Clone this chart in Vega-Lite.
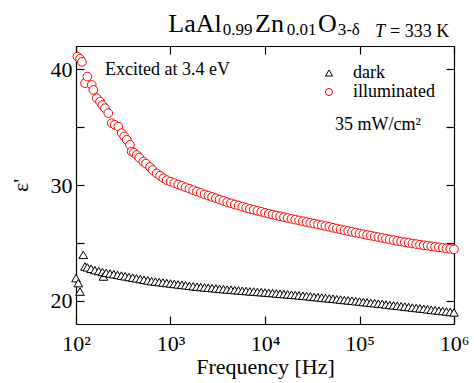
{
  "$schema": "https://vega.github.io/schema/vega-lite/v6.json",
  "width": 378,
  "height": 278,
  "autosize": {"type": "none"},
  "padding": {"left": 76, "top": 46, "right": 20, "bottom": 59},
  "background": "white",
  "config": {
    "view": {"stroke": null},
    "font": "Liberation Serif",
    "axis": {
      "domainColor": "black", "domainWidth": 1.2,
      "tickColor": "black", "tickWidth": 1.2, "tickSize": -8,
      "labelFont": "Liberation Serif", "labelFontSize": 22, "labelColor": "black",
      "titleFont": "Liberation Serif", "titleFontSize": 22, "titleFontWeight": "normal", "titleColor": "black",
      "grid": false
    },
    "legend": {
      "orient": "none", "legendX": 244, "legendY": 18, "title": null,
      "labelFont": "Liberation Serif", "labelFontSize": 18, "labelColor": "black",
      "symbolSize": 50, "symbolStrokeWidth": 1, "labelOffset": 15, "rowPadding": 1, "padding": 0,
      "symbolFillColor": "white"
    }
  },
  "resolve": {"axis": {"x": "independent", "y": "independent"}},
  "layer": [
    {
      "data": {"values": [
        {"series": "dark", "freq": 100, "eps": 21.96},
        {"series": "dark", "freq": 105.7, "eps": 21.53},
        {"series": "dark", "freq": 110.2, "eps": 20.8},
        {"series": "dark", "freq": 119.4, "eps": 23.97},
        {"series": "dark", "freq": 124.5, "eps": 22.96},
        {"series": "dark", "freq": 131.8, "eps": 22.89},
        {"series": "dark", "freq": 144.5, "eps": 22.77},
        {"series": "dark", "freq": 158.5, "eps": 22.65},
        {"series": "dark", "freq": 173.8, "eps": 22.57},
        {"series": "dark", "freq": 190.5, "eps": 22.49},
        {"series": "dark", "freq": 195, "eps": 22.1},
        {"series": "dark", "freq": 208.9, "eps": 22.42},
        {"series": "dark", "freq": 229.1, "eps": 22.36},
        {"series": "dark", "freq": 251.2, "eps": 22.30},
        {"series": "dark", "freq": 275.4, "eps": 22.24},
        {"series": "dark", "freq": 302, "eps": 22.18},
        {"series": "dark", "freq": 331.1, "eps": 22.12},
        {"series": "dark", "freq": 363.1, "eps": 22.06},
        {"series": "dark", "freq": 398.1, "eps": 22.00},
        {"series": "dark", "freq": 436.5, "eps": 21.94},
        {"series": "dark", "freq": 478.6, "eps": 21.88},
        {"series": "dark", "freq": 524.8, "eps": 21.82},
        {"series": "dark", "freq": 575.4, "eps": 21.76},
        {"series": "dark", "freq": 631, "eps": 21.70},
        {"series": "dark", "freq": 691.8, "eps": 21.66},
        {"series": "dark", "freq": 758.6, "eps": 21.62},
        {"series": "dark", "freq": 831.8, "eps": 21.58},
        {"series": "dark", "freq": 912, "eps": 21.54},
        {"series": "dark", "freq": 1000, "eps": 21.50},
        {"series": "dark", "freq": 1096, "eps": 21.46},
        {"series": "dark", "freq": 1202, "eps": 21.42},
        {"series": "dark", "freq": 1318, "eps": 21.38},
        {"series": "dark", "freq": 1445, "eps": 21.34},
        {"series": "dark", "freq": 1585, "eps": 21.30},
        {"series": "dark", "freq": 1738, "eps": 21.26},
        {"series": "dark", "freq": 1905, "eps": 21.22},
        {"series": "dark", "freq": 2089, "eps": 21.19},
        {"series": "dark", "freq": 2291, "eps": 21.16},
        {"series": "dark", "freq": 2512, "eps": 21.13},
        {"series": "dark", "freq": 2754, "eps": 21.10},
        {"series": "dark", "freq": 3020, "eps": 21.07},
        {"series": "dark", "freq": 3311, "eps": 21.04},
        {"series": "dark", "freq": 3631, "eps": 21.01},
        {"series": "dark", "freq": 3981, "eps": 20.98},
        {"series": "dark", "freq": 4365, "eps": 20.96},
        {"series": "dark", "freq": 4786, "eps": 20.93},
        {"series": "dark", "freq": 5248, "eps": 20.90},
        {"series": "dark", "freq": 5754, "eps": 20.87},
        {"series": "dark", "freq": 6310, "eps": 20.85},
        {"series": "dark", "freq": 6918, "eps": 20.82},
        {"series": "dark", "freq": 7586, "eps": 20.80},
        {"series": "dark", "freq": 8318, "eps": 20.77},
        {"series": "dark", "freq": 9120, "eps": 20.75},
        {"series": "dark", "freq": 10000, "eps": 20.72},
        {"series": "dark", "freq": 10965, "eps": 20.69},
        {"series": "dark", "freq": 12023, "eps": 20.67},
        {"series": "dark", "freq": 13183, "eps": 20.64},
        {"series": "dark", "freq": 14454, "eps": 20.61},
        {"series": "dark", "freq": 15849, "eps": 20.58},
        {"series": "dark", "freq": 17378, "eps": 20.56},
        {"series": "dark", "freq": 19055, "eps": 20.53},
        {"series": "dark", "freq": 20893, "eps": 20.50},
        {"series": "dark", "freq": 22909, "eps": 20.47},
        {"series": "dark", "freq": 25119, "eps": 20.44},
        {"series": "dark", "freq": 27542, "eps": 20.41},
        {"series": "dark", "freq": 30200, "eps": 20.38},
        {"series": "dark", "freq": 33113, "eps": 20.34},
        {"series": "dark", "freq": 36308, "eps": 20.31},
        {"series": "dark", "freq": 39811, "eps": 20.28},
        {"series": "dark", "freq": 43652, "eps": 20.24},
        {"series": "dark", "freq": 47863, "eps": 20.21},
        {"series": "dark", "freq": 52481, "eps": 20.18},
        {"series": "dark", "freq": 57544, "eps": 20.14},
        {"series": "dark", "freq": 63096, "eps": 20.11},
        {"series": "dark", "freq": 69183, "eps": 20.07},
        {"series": "dark", "freq": 75858, "eps": 20.04},
        {"series": "dark", "freq": 83176, "eps": 20.01},
        {"series": "dark", "freq": 91201, "eps": 19.97},
        {"series": "dark", "freq": 100000, "eps": 19.94},
        {"series": "dark", "freq": 109650, "eps": 19.90},
        {"series": "dark", "freq": 120230, "eps": 19.87},
        {"series": "dark", "freq": 131830, "eps": 19.83},
        {"series": "dark", "freq": 144540, "eps": 19.80},
        {"series": "dark", "freq": 158490, "eps": 19.76},
        {"series": "dark", "freq": 173780, "eps": 19.73},
        {"series": "dark", "freq": 190550, "eps": 19.69},
        {"series": "dark", "freq": 208930, "eps": 19.65},
        {"series": "dark", "freq": 229090, "eps": 19.61},
        {"series": "dark", "freq": 251190, "eps": 19.58},
        {"series": "dark", "freq": 275420, "eps": 19.54},
        {"series": "dark", "freq": 302000, "eps": 19.50},
        {"series": "dark", "freq": 331130, "eps": 19.46},
        {"series": "dark", "freq": 363080, "eps": 19.42},
        {"series": "dark", "freq": 398110, "eps": 19.38},
        {"series": "dark", "freq": 436520, "eps": 19.35},
        {"series": "dark", "freq": 478630, "eps": 19.31},
        {"series": "dark", "freq": 524810, "eps": 19.27},
        {"series": "dark", "freq": 575440, "eps": 19.23},
        {"series": "dark", "freq": 630960, "eps": 19.19},
        {"series": "dark", "freq": 691830, "eps": 19.15},
        {"series": "dark", "freq": 758580, "eps": 19.12},
        {"series": "dark", "freq": 831760, "eps": 19.08},
        {"series": "dark", "freq": 912010, "eps": 19.04},
        {"series": "dark", "freq": 1000000, "eps": 19.00},
        {"series": "illuminated", "freq": 103.3, "eps": 41.09},
        {"series": "illuminated", "freq": 110.2, "eps": 40.89},
        {"series": "illuminated", "freq": 115.6, "eps": 40.63},
        {"series": "illuminated", "freq": 124.5, "eps": 38.79},
        {"series": "illuminated", "freq": 131.8, "eps": 39.36},
        {"series": "illuminated", "freq": 146.6, "eps": 38.64},
        {"series": "illuminated", "freq": 152.4, "eps": 38.21},
        {"series": "illuminated", "freq": 165.6, "eps": 37.5},
        {"series": "illuminated", "freq": 179.5, "eps": 37.2},
        {"series": "illuminated", "freq": 190, "eps": 36.9},
        {"series": "illuminated", "freq": 202.8, "eps": 36.63},
        {"series": "illuminated", "freq": 219.8, "eps": 36.2},
        {"series": "illuminated", "freq": 238.8, "eps": 35.34},
        {"series": "illuminated", "freq": 257, "eps": 35.2},
        {"series": "illuminated", "freq": 280.5, "eps": 35.05},
        {"series": "illuminated", "freq": 304.8, "eps": 34.48},
        {"series": "illuminated", "freq": 324, "eps": 34.2},
        {"series": "illuminated", "freq": 344.4, "eps": 33.9},
        {"series": "illuminated", "freq": 372.4, "eps": 33.47},
        {"series": "illuminated", "freq": 388.1, "eps": 32.89},
        {"series": "illuminated", "freq": 410, "eps": 32.8},
        {"series": "illuminated", "freq": 438.5, "eps": 32.6},
        {"series": "illuminated", "freq": 468, "eps": 32.35},
        {"series": "illuminated", "freq": 515.2, "eps": 32.02},
        {"series": "illuminated", "freq": 550, "eps": 31.85},
        {"series": "illuminated", "freq": 606.7, "eps": 31.55},
        {"series": "illuminated", "freq": 646, "eps": 31.3},
        {"series": "illuminated", "freq": 714.5, "eps": 31.0},
        {"series": "illuminated", "freq": 776, "eps": 30.8},
        {"series": "illuminated", "freq": 839.5, "eps": 30.58},
        {"series": "illuminated", "freq": 912, "eps": 30.42},
        {"series": "illuminated", "freq": 1000, "eps": 30.29},
        {"series": "illuminated", "freq": 1096, "eps": 30.17},
        {"series": "illuminated", "freq": 1202, "eps": 30.05},
        {"series": "illuminated", "freq": 1318, "eps": 29.93},
        {"series": "illuminated", "freq": 1445, "eps": 29.80},
        {"series": "illuminated", "freq": 1585, "eps": 29.68},
        {"series": "illuminated", "freq": 1738, "eps": 29.56},
        {"series": "illuminated", "freq": 1905, "eps": 29.44},
        {"series": "illuminated", "freq": 2089, "eps": 29.32},
        {"series": "illuminated", "freq": 2291, "eps": 29.20},
        {"series": "illuminated", "freq": 2512, "eps": 29.08},
        {"series": "illuminated", "freq": 2754, "eps": 28.97},
        {"series": "illuminated", "freq": 3020, "eps": 28.86},
        {"series": "illuminated", "freq": 3311, "eps": 28.74},
        {"series": "illuminated", "freq": 3631, "eps": 28.63},
        {"series": "illuminated", "freq": 3981, "eps": 28.52},
        {"series": "illuminated", "freq": 4365, "eps": 28.42},
        {"series": "illuminated", "freq": 4786, "eps": 28.32},
        {"series": "illuminated", "freq": 5248, "eps": 28.23},
        {"series": "illuminated", "freq": 5754, "eps": 28.13},
        {"series": "illuminated", "freq": 6310, "eps": 28.03},
        {"series": "illuminated", "freq": 6918, "eps": 27.94},
        {"series": "illuminated", "freq": 7586, "eps": 27.86},
        {"series": "illuminated", "freq": 8318, "eps": 27.77},
        {"series": "illuminated", "freq": 9120, "eps": 27.69},
        {"series": "illuminated", "freq": 10000, "eps": 27.60},
        {"series": "illuminated", "freq": 10965, "eps": 27.52},
        {"series": "illuminated", "freq": 12023, "eps": 27.45},
        {"series": "illuminated", "freq": 13183, "eps": 27.37},
        {"series": "illuminated", "freq": 14454, "eps": 27.30},
        {"series": "illuminated", "freq": 15849, "eps": 27.22},
        {"series": "illuminated", "freq": 17378, "eps": 27.15},
        {"series": "illuminated", "freq": 19055, "eps": 27.08},
        {"series": "illuminated", "freq": 20893, "eps": 27.01},
        {"series": "illuminated", "freq": 22909, "eps": 26.94},
        {"series": "illuminated", "freq": 25119, "eps": 26.87},
        {"series": "illuminated", "freq": 27542, "eps": 26.80},
        {"series": "illuminated", "freq": 30200, "eps": 26.73},
        {"series": "illuminated", "freq": 33113, "eps": 26.67},
        {"series": "illuminated", "freq": 36308, "eps": 26.60},
        {"series": "illuminated", "freq": 39811, "eps": 26.53},
        {"series": "illuminated", "freq": 43652, "eps": 26.46},
        {"series": "illuminated", "freq": 47863, "eps": 26.39},
        {"series": "illuminated", "freq": 52481, "eps": 26.31},
        {"series": "illuminated", "freq": 57544, "eps": 26.24},
        {"series": "illuminated", "freq": 63096, "eps": 26.17},
        {"series": "illuminated", "freq": 69183, "eps": 26.10},
        {"series": "illuminated", "freq": 75858, "eps": 26.03},
        {"series": "illuminated", "freq": 83176, "eps": 25.96},
        {"series": "illuminated", "freq": 91201, "eps": 25.89},
        {"series": "illuminated", "freq": 100000, "eps": 25.82},
        {"series": "illuminated", "freq": 109650, "eps": 25.76},
        {"series": "illuminated", "freq": 120230, "eps": 25.69},
        {"series": "illuminated", "freq": 131830, "eps": 25.63},
        {"series": "illuminated", "freq": 144540, "eps": 25.56},
        {"series": "illuminated", "freq": 158490, "eps": 25.50},
        {"series": "illuminated", "freq": 173780, "eps": 25.43},
        {"series": "illuminated", "freq": 190550, "eps": 25.37},
        {"series": "illuminated", "freq": 208930, "eps": 25.30},
        {"series": "illuminated", "freq": 229090, "eps": 25.24},
        {"series": "illuminated", "freq": 251190, "eps": 25.17},
        {"series": "illuminated", "freq": 275420, "eps": 25.12},
        {"series": "illuminated", "freq": 302000, "eps": 25.06},
        {"series": "illuminated", "freq": 331130, "eps": 25.01},
        {"series": "illuminated", "freq": 363080, "eps": 24.95},
        {"series": "illuminated", "freq": 398110, "eps": 24.90},
        {"series": "illuminated", "freq": 436520, "eps": 24.85},
        {"series": "illuminated", "freq": 478630, "eps": 24.80},
        {"series": "illuminated", "freq": 524810, "eps": 24.76},
        {"series": "illuminated", "freq": 575440, "eps": 24.71},
        {"series": "illuminated", "freq": 630960, "eps": 24.66},
        {"series": "illuminated", "freq": 691830, "eps": 24.62},
        {"series": "illuminated", "freq": 758580, "eps": 24.58},
        {"series": "illuminated", "freq": 831760, "eps": 24.53},
        {"series": "illuminated", "freq": 912010, "eps": 24.49},
        {"series": "illuminated", "freq": 1000000, "eps": 24.45}
      ]},
      "mark": {"type": "point", "fill": "white", "filled": false, "opacity": 1, "strokeWidth": 1, "size": 75, "clip": false},
      "encoding": {
        "x": {"field": "freq", "type": "quantitative",
          "scale": {"type": "log", "domain": [100, 1000000], "nice": false},
          "axis": {"orient": "bottom", "values": [100, 1000, 10000, 100000, 1000000],
            "labelExpr": "'10' + ['⁰','¹','²','³','⁴','⁵','⁶'][round(log(datum.value)/LN10)]",
            "labelPadding": 17, "labelDx": 6, "labelFlush": false, "labelOverlap": false,
            "title": "Frequency [Hz]", "titlePadding": 2}},
        "y": {"field": "eps", "type": "quantitative",
          "scale": {"domain": [18, 42], "nice": false, "zero": false},
          "axis": {"orient": "left", "values": [20, 25, 30, 35, 40],
            "labelExpr": "datum.value % 10 == 0 ? datum.label : ''",
            "labelPadding": 12, "title": "ε'", "titlePadding": 18}},
        "stroke": {"field": "series", "type": "nominal",
          "scale": {"domain": ["dark", "illuminated"], "range": ["black", "red"]}},
        "shape": {"field": "series", "type": "nominal",
          "scale": {"domain": ["dark", "illuminated"], "range": ["triangle-up", "circle"]}}
      }
    },
    {
      "data": {"values": [
        {"freq": 947.7, "eps": 43.22, "text": "LaAl"},
        {"freq": 7838, "eps": 43.22, "text": "Zn"},
        {"freq": 36370, "eps": 43.22, "text": "O"}
      ]},
      "mark": {"type": "text", "font": "Liberation Serif", "fontSize": 26, "align": "left", "baseline": "alphabetic", "fill": "black", "clip": false},
      "encoding": {
        "x": {"field": "freq", "type": "quantitative",
          "scale": {"type": "log", "domain": [100, 1000000], "nice": false},
          "axis": {"orient": "top", "values": [100, 1000, 10000, 100000, 1000000], "labels": false, "title": null}},
        "y": {"field": "eps", "type": "quantitative",
          "scale": {"domain": [18, 42], "nice": false, "zero": false},
          "axis": {"orient": "right", "values": [20, 25, 30, 35, 40], "labels": false, "title": null}},
        "text": {"field": "text"}
      }
    },
    {
      "data": {"values": [
        {"freq": 3567, "eps": 42.92, "text": "0.99"},
        {"freq": 16966, "eps": 42.92, "text": "0.01"},
        {"freq": 58790, "eps": 42.92, "text": "3-δ"}
      ]},
      "mark": {"type": "text", "font": "Liberation Serif", "fontSize": 17, "align": "left", "baseline": "alphabetic", "fill": "black", "clip": false},
      "encoding": {
        "x": {"field": "freq", "type": "quantitative", "scale": {"type": "log", "domain": [100, 1000000], "nice": false}, "axis": null},
        "y": {"field": "eps", "type": "quantitative", "scale": {"domain": [18, 42], "nice": false, "zero": false}, "axis": null},
        "text": {"field": "text"}
      }
    },
    {
      "data": {"values": [
        {"freq": 145900, "eps": 42.745, "text": "T"}
      ]},
      "mark": {"type": "text", "font": "Liberation Serif", "fontSize": 18, "fontStyle": "italic", "align": "left", "baseline": "alphabetic", "fill": "black", "clip": false},
      "encoding": {
        "x": {"field": "freq", "type": "quantitative", "scale": {"type": "log", "domain": [100, 1000000], "nice": false}, "axis": null},
        "y": {"field": "eps", "type": "quantitative", "scale": {"domain": [18, 42], "nice": false, "zero": false}, "axis": null},
        "text": {"field": "text"}
      }
    },
    {
      "data": {"values": [
        {"freq": 210300, "eps": 42.745, "text": "= 333 K"},
        {"freq": 202.6, "eps": 39.51, "text": "Excited at 3.4 eV"},
        {"freq": 55050, "eps": 34.76, "text": "35 mW/cm²"}
      ]},
      "mark": {"type": "text", "font": "Liberation Serif", "fontSize": 18, "align": "left", "baseline": "alphabetic", "fill": "black", "clip": false},
      "encoding": {
        "x": {"field": "freq", "type": "quantitative", "scale": {"type": "log", "domain": [100, 1000000], "nice": false}, "axis": null},
        "y": {"field": "eps", "type": "quantitative", "scale": {"domain": [18, 42], "nice": false, "zero": false}, "axis": null},
        "text": {"field": "text"}
      }
    }
  ]
}
